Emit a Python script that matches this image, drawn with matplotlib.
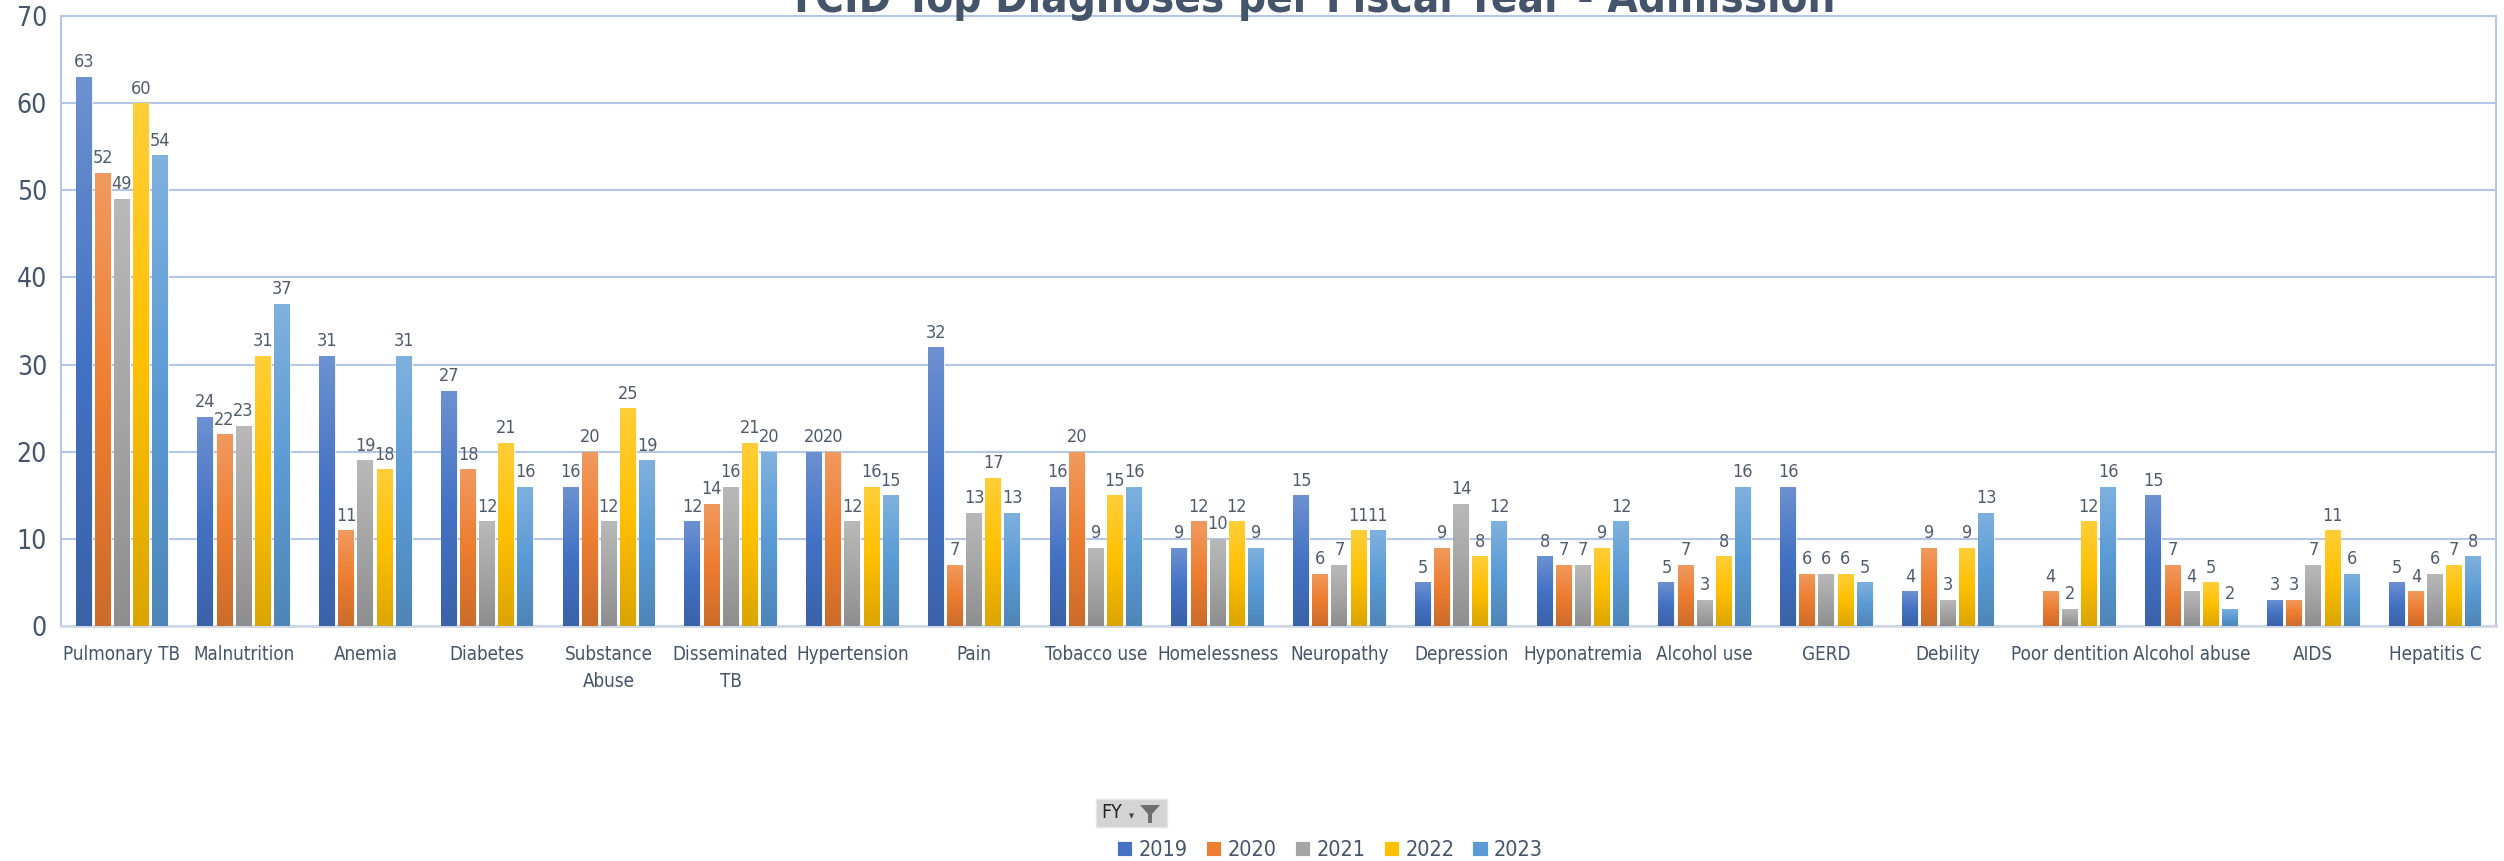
import numpy as np
import matplotlib
matplotlib.use("Agg")
import matplotlib.pyplot as plt
from matplotlib.colors import LinearSegmentedColormap, to_rgb
from matplotlib.patches import Rectangle, Polygon

plt.rcParams['font.family'] = ['DejaVu Sans']
plt.rcParams['font.stretch'] = 'condensed'

categories = ["Pulmonary TB", "Malnutrition", "Anemia", "Diabetes", "Substance\nAbuse",
              "Disseminated\nTB", "Hypertension", "Pain", "Tobacco use", "Homelessness",
              "Neuropathy", "Depression", "Hyponatremia", "Alcohol use", "GERD",
              "Debility", "Poor dentition", "Alcohol abuse", "AIDS", "Hepatitis C"]
years = ["2019", "2020", "2021", "2022", "2023"]
fy2019 = [63, 24, 31, 27, 16, 12, 20, 32, 16, 9, 15, 5, 8, 5, 16, 4, np.nan, 15, 3, 5]
fy2020 = [52, 22, 11, 18, 20, 14, 20, 7, 20, 12, 6, 9, 7, 7, 6, 9, 4, 7, 3, 4]
fy2021 = [49, 23, 19, 12, 12, 16, 12, 13, 9, 10, 7, 14, 7, 3, 6, 3, 2, 4, 7, 6]
fy2022 = [60, 31, 18, 21, 25, 21, 16, 17, 15, 12, 11, 8, 9, 8, 6, 9, 12, 5, 11, 7]
fy2023 = [54, 37, 31, 16, 19, 20, 15, 13, 16, 9, 11, 12, 12, 16, 5, 13, 16, 2, 6, 8]
series = [fy2019, fy2020, fy2021, fy2022, fy2023]
colors = ["#4472C4", "#ED7D31", "#A5A5A5", "#FFC000", "#5B9BD5"]

text_col = "#44546A"
grid_col = "#B4C7E7"


def grad_cmap(c):
    base = np.array(to_rgb(c))
    light = base + (1 - base) * 0.22
    dark = base * 0.86
    return LinearSegmentedColormap.from_list("g", [light, base, dark])


fig = plt.figure(figsize=(25.04, 8.61), dpi=100)
ax = fig.add_axes([61 / 2504, 1 - 626 / 861, (2496 - 61) / 2504, (626 - 16) / 861])

x = np.arange(len(categories))
pitch = 0.157
width = 0.13
grad = np.linspace(0, 1, 128)[:, None]
for i, (vals, yr, c) in enumerate(zip(series, years, colors)):
    bars = ax.bar(x + (i - 2) * pitch, vals, width, color=c, label=yr,
                  edgecolor="white", linewidth=0.6, zorder=3)
    cmap = grad_cmap(c)
    for b in bars:
        h = b.get_height()
        if np.isnan(h):
            continue
        x0 = b.get_x()
        im = ax.imshow(grad, cmap=cmap, aspect="auto", origin="upper",
                       extent=[x0, x0 + b.get_width(), 0, h], zorder=3.5)
        im.set_clip_path(b)
    labels = ["" if np.isnan(v) else str(int(v)) for v in vals]
    ax.bar_label(bars, labels=labels, padding=4, fontsize=13, color="#4F5B6D")

ax.set_xlim(-0.5, len(categories) - 0.5)
ax.set_ylim(0, 70)
ax.set_yticks(range(0, 71, 10))
ax.set_xticks(x)
ax.set_xticklabels(categories, fontsize=13.5, color=text_col, linespacing=1.5)
ax.tick_params(axis="x", length=0, pad=14)
ax.tick_params(axis="y", length=0, pad=10, labelsize=19, labelcolor=text_col)
ax.yaxis.grid(True, color=grid_col, linewidth=1.5, zorder=0)
for s in ["left", "right", "top"]:
    ax.spines[s].set_color(grid_col)
    ax.spines[s].set_linewidth(1.5)
ax.spines["bottom"].set_color("#D0D7E5")
ax.spines["bottom"].set_linewidth(2)

fig.text(1312 / 2504, 1 - 12 / 861, "TCID Top Diagnoses per Fiscal Year - Admission",
         ha="center", va="baseline", fontsize=31.5, fontweight="bold", color=text_col)

# FY filter button
bx0, by0, bw, bh = 1096 / 2504, 1 - 827 / 861, 71 / 2504, 28 / 861
fig.patches.append(Rectangle((bx0, by0), bw, bh, transform=fig.transFigure,
                             facecolor="#D4D4D4", edgecolor="#E6E6E6", linewidth=1))
fig.text(bx0 + 5 / 2504, by0 + bh / 2, "FY", ha="left", va="center", fontsize=14, color="#222222")
fig.text(bx0 + 33 / 2504, by0 + bh / 2 - 3 / 861, "▾", ha="left", va="center",
         fontsize=8, color="#444444")
fx = bx0 + 44 / 2504
funnel = [(fx, by0 + 22 / 861), (fx + 20 / 2504, by0 + 22 / 861), (fx + 12 / 2504, by0 + 13 / 861),
          (fx + 12 / 2504, by0 + 4 / 861), (fx + 8 / 2504, by0 + 4 / 861), (fx + 8 / 2504, by0 + 13 / 861)]
fig.patches.append(Polygon(funnel, closed=True, transform=fig.transFigure,
                           facecolor="#6E6E6E", edgecolor="none"))

leg = fig.legend(loc="center", bbox_to_anchor=(1330 / 2504, 1 - 850 / 861), ncol=5,
                 frameon=False, fontsize=15.5, handlelength=0.7, handleheight=0.7,
                 handletextpad=0.3, columnspacing=0.85)
for t in leg.get_texts():
    t.set_color(text_col)

fig.savefig("out.png", dpi=100)
